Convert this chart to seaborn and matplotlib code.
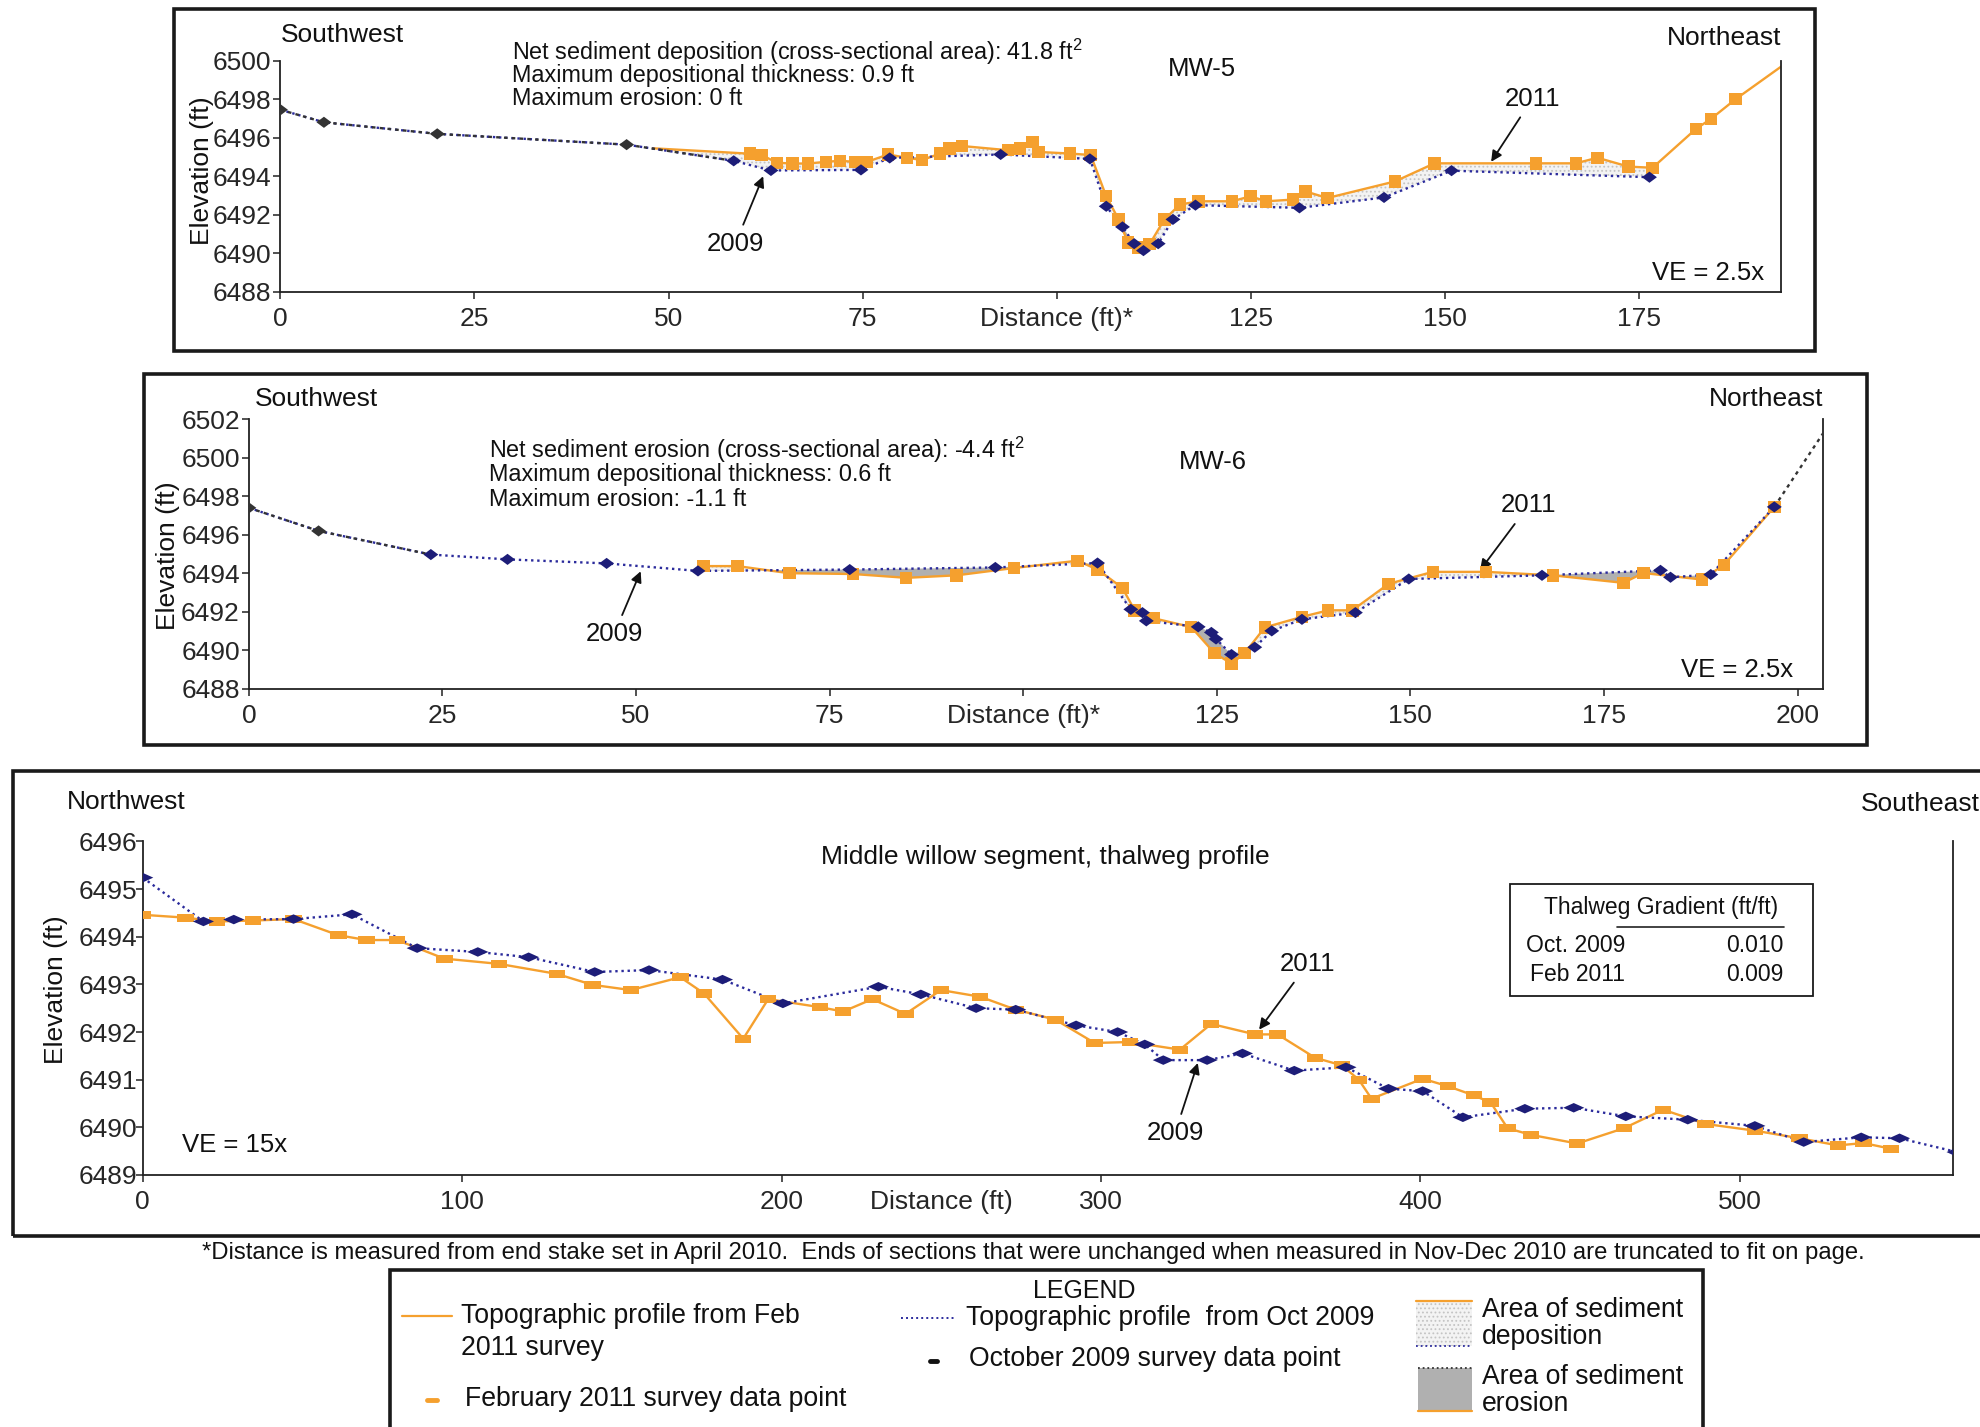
import numpy as np
import matplotlib
matplotlib.use("Agg")
import matplotlib.pyplot as plt
from matplotlib.path import Path
from matplotlib.patches import Rectangle
from matplotlib.lines import Line2D
import seaborn as sns

# ---------------------------------------------------------------- data
# MW-5 cross section (distance ft, elevation ft)
mw5_x09 = [0, 5.6, 20.2, 44.6, 58.4, 63.2, 74.8, 78.5, 92.8, 104.3, 106.4, 108.5,
           110.0, 111.2, 113.1, 115.0, 117.9, 131.3, 142.2, 150.9, 176.4]
mw5_y09 = [6497.45, 6496.8, 6496.2, 6495.64, 6494.8, 6494.3, 6494.33, 6494.95, 6495.13,
           6494.9, 6492.44, 6491.37, 6490.5, 6490.14, 6490.5, 6491.76, 6492.5, 6492.36,
           6492.9, 6494.29, 6493.95]
mw5_unchanged = 4          # leading 2009 points outside the resurveyed reach

mw5_x11 = [48.0, 60.5, 62.0, 64.0, 66.0, 68.0, 70.3, 72.1, 74.0, 75.6, 78.3, 80.7,
           82.7, 85.0, 86.2, 87.8, 93.75, 95.3, 96.9, 97.7, 101.7, 104.4, 106.4, 108.0,
           109.2, 110.5, 112.0, 113.9, 115.9, 118.3, 122.6, 125.0, 127.0, 130.5, 132.1,
           134.9, 143.6, 148.7, 161.8, 166.9, 169.7, 173.7, 176.8, 182.4, 184.3, 187.5,
           193.4]
mw5_y11 = [6495.45, 6495.17, 6495.1, 6494.7, 6494.66, 6494.66, 6494.75, 6494.8, 6494.75,
           6494.75, 6495.13, 6494.96, 6494.84, 6495.18, 6495.44, 6495.57, 6495.35,
           6495.44, 6495.78, 6495.26, 6495.18, 6495.1, 6492.96, 6491.76, 6490.56,
           6490.3, 6490.48, 6491.76, 6492.53, 6492.7, 6492.7, 6492.96, 6492.7, 6492.79,
           6493.21, 6492.87, 6493.73, 6494.67, 6494.67, 6494.67, 6494.96, 6494.5,
           6494.44, 6496.46, 6496.97, 6498.0, 6499.7]

# MW-6 cross section
mw6_x09 = [0, 9.0, 23.5, 33.4, 46.2, 58.0, 77.6, 96.4, 109.6, 113.9, 115.4, 115.9,
           122.6, 124.3, 124.9, 126.9, 129.9, 132.1, 136.0, 142.9, 149.8, 167.0, 182.3,
           183.6, 188.8]
mw6_y09 = [6497.4, 6496.2, 6494.97, 6494.72, 6494.51, 6494.12, 6494.19, 6494.3, 6494.53,
           6492.12, 6491.95, 6491.52, 6491.21, 6490.92, 6490.58, 6489.77, 6490.15,
           6491.0, 6491.6, 6491.95, 6493.7, 6493.89, 6494.15, 6493.79, 6493.93]
mw6_unchanged = 2
mw6_ne_x = [197.0, 203.5]          # unchanged northeast end
mw6_ne_y = [6497.45, 6501.4]

mw6_x11 = [58.7, 63.1, 69.8, 78.0, 84.9, 91.4, 98.8, 107.0, 109.6, 112.8, 114.4, 116.8,
           121.7, 124.7, 126.9, 128.6, 131.2, 136.0, 139.4, 142.5, 147.2, 152.9, 159.8,
           168.4, 177.5, 180.1, 187.7, 190.5, 197.0]
mw6_y11 = [6494.37, 6494.37, 6494.0, 6493.96, 6493.76, 6493.89, 6494.27, 6494.65,
           6494.19, 6493.24, 6492.07, 6491.66, 6491.2, 6489.84, 6489.3, 6489.84,
           6491.18, 6491.73, 6492.07, 6492.07, 6493.45, 6494.07, 6494.07, 6493.89,
           6493.5, 6494.01, 6493.67, 6494.44, 6497.45]

# Middle willow segment thalweg profile
th_x09 = [0, 19, 28.5, 47.2, 65.5, 85.9, 104.9, 120.8, 141.5, 158.5, 181.5, 200.4,
          230.3, 243.6, 260.9, 273.3, 292.2, 305.2, 313.7, 319.5, 333.2, 344.3, 360.5,
          376.7, 390, 400.7, 413.3, 432.7, 448, 464.3, 483.7, 504.7, 520, 538, 550, 568]
th_y09 = [6495.24, 6494.32, 6494.36, 6494.37, 6494.47, 6493.76, 6493.68, 6493.57,
          6493.26, 6493.3, 6493.1, 6492.6, 6492.95, 6492.79, 6492.5, 6492.47, 6492.14,
          6492.0, 6491.74, 6491.41, 6491.41, 6491.55, 6491.19, 6491.26, 6490.81,
          6490.76, 6490.21, 6490.39, 6490.41, 6490.23, 6490.16, 6490.03, 6489.69,
          6489.79, 6489.77, 6489.48]
th_x11 = [0, 13.4, 23.2, 34.5, 47.2, 61.3, 70.1, 79.6, 94.4, 111.5, 129.6, 140.8, 152.8,
          168.3, 175.7, 188, 195.8, 212.1, 219.3, 228.4, 238.8, 249.9, 262.2, 273.3,
          285.7, 298, 309.1, 324.7, 334.5, 348.2, 355.3, 367, 375.4, 380.7, 384.7,
          400.7, 408.7, 416.7, 422, 427.3, 434.7, 449.1, 463.7, 476, 489.3, 504.7,
          518.7, 530.7, 538.7, 547.3]
th_y11 = [6494.46, 6494.4, 6494.32, 6494.34, 6494.37, 6494.03, 6493.93, 6493.93,
          6493.54, 6493.43, 6493.22, 6492.99, 6492.88, 6493.15, 6492.81, 6491.86,
          6492.69, 6492.52, 6492.43, 6492.69, 6492.38, 6492.88, 6492.74, 6492.47,
          6492.26, 6491.77, 6491.79, 6491.63, 6492.17, 6491.95, 6491.95, 6491.46,
          6491.3, 6491.0, 6490.6, 6491.02, 6490.86, 6490.67, 6490.52, 6489.98,
          6489.84, 6489.66, 6489.98, 6490.37, 6490.07, 6489.93, 6489.77, 6489.62,
          6489.67, 6489.55]

# axis ticks and labels
mw5_xticks = [0, 25, 50, 75, 100, 125, 150, 175]
mw5_xlabels = ["0", "25", "50", "75", "Distance (ft)*", "125", "150", "175"]
mw5_yticks = [6488, 6490, 6492, 6494, 6496, 6498, 6500]
mw6_xticks = [0, 25, 50, 75, 100, 125, 150, 175, 200]
mw6_xlabels = ["0", "25", "50", "75", "Distance (ft)*", "125", "150", "175", "200"]
mw6_yticks = [6488, 6490, 6492, 6494, 6496, 6498, 6500, 6502]
th_xticks = [0, 100, 200, 250, 300, 400, 500]
th_xlabels = ["0", "100", "200", "Distance (ft)", "300", "400", "500"]
th_yticks = [6489, 6490, 6491, 6492, 6493, 6494, 6495, 6496]

mw5_notes = ["Net sediment deposition (cross-sectional area): 41.8 ft$^{2}$",
             "Maximum depositional thickness: 0.9 ft",
             "Maximum erosion: 0 ft"]
mw6_notes = ["Net sediment erosion (cross-sectional area): -4.4 ft$^{2}$",
             "Maximum depositional thickness: 0.6 ft",
             "Maximum erosion: -1.1 ft"]
gradient_rows = [("Oct. 2009", "0.010"), ("Feb 2011", "0.009")]

# ---------------------------------------------------------------- style
sns.set_theme(style="white")
plt.rcParams["font.family"] = ["Liberation Sans", "DejaVu Sans"]
plt.rcParams["mathtext.fontset"] = "custom"
plt.rcParams["mathtext.rm"] = "Liberation Sans"
plt.rcParams["mathtext.it"] = "Liberation Sans:italic"
plt.rcParams["hatch.color"] = "#b8b8b8"
plt.rcParams["hatch.linewidth"] = 0.8

ORANGE = "#F5A02E"
NAVY = "#1D1D78"
DOT_BLUE = "#2B2B9C"
DARK = "#333333"
FRAME = "#1a1a1a"
TICK_FS = 19
LABEL_FS = 19
NOTE_FS = 16.8

DIAMOND = Path([(-1, 0), (0, 0.75), (1, 0), (0, -0.75), (-1, 0)],
               [Path.MOVETO, Path.LINETO, Path.LINETO, Path.LINETO, Path.CLOSEPOLY])
FLAT_DIAMOND = Path([(-1, 0), (0, 0.45), (1, 0), (0, -0.45), (-1, 0)],
                    [Path.MOVETO, Path.LINETO, Path.LINETO, Path.LINETO, Path.CLOSEPOLY])
FLAT_RECT = Path([(-1, -0.5), (1, -0.5), (1, 0.5), (-1, 0.5), (-1, -0.5)],
                 [Path.MOVETO, Path.LINETO, Path.LINETO, Path.LINETO, Path.CLOSEPOLY])

GRID_W, GRID_H = 1568.0, 1129.5          # page layout grid


def pos(x, y):
    return (x / GRID_W, 1 - y / GRID_H)


fig = plt.figure(figsize=(19.81, 14.27), dpi=100)
fig.patch.set_facecolor("white")


def page_axes(x0, y0, x1, y1):
    a = pos(x0, y1)
    b = pos(x1, y0)
    return fig.add_axes([a[0], a[1], b[0] - a[0], b[1] - a[1]])


def frame(x0, y0, x1, y1, lw=2.6):
    a = pos(x0, y1)
    b = pos(x1, y0)
    fig.add_artist(Rectangle(a, b[0] - a[0], b[1] - a[1], transform=fig.transFigure,
                             fill=False, edgecolor=FRAME, linewidth=lw))


def ftext(x, y, s, size=LABEL_FS, ha="left", va="center", **kw):
    fig.text(*pos(x, y), s, fontsize=size, ha=ha, va=va, color="#111111", **kw)


def style_axes(ax, xlim, ylim, xticks, xlabels, yticks, ypad=1.5):
    ax.set_xlim(*xlim)
    ax.set_ylim(*ylim)
    ax.set_xticks(xticks)
    ax.set_xticklabels(xlabels)
    ax.set_yticks(yticks)
    ax.set_yticklabels([str(v) for v in yticks])
    ax.set_xlabel("")
    ax.set_ylabel("")
    ax.spines["top"].set_visible(False)
    for s in ("left", "bottom", "right"):
        ax.spines[s].set_color("#222222")
        ax.spines[s].set_linewidth(1.3)
    ax.tick_params(axis="both", labelsize=TICK_FS, length=5, width=1.1,
                   color="#222222", direction="out", left=True, bottom=True)
    ax.tick_params(axis="y", pad=ypad)
    ax.tick_params(axis="x", pad=6)
    ax.set_facecolor("none")


def change_fill(ax, x09, y09, x11, y11):
    lo = max(x09[0], x11[0])
    hi = min(x09[-1], x11[-1])
    grid = np.linspace(lo, hi, 1500)
    a = np.interp(grid, x09, y09)
    b = np.interp(grid, x11, y11)
    ax.fill_between(grid, a, b, where=b >= a, interpolate=True, facecolor="#f3f3f3",
                    hatch="....", edgecolor="#c4c4c4", linewidth=0, zorder=1)
    ax.fill_between(grid, a, b, where=b < a, interpolate=True, facecolor="#b0b0b0",
                    edgecolor="none", linewidth=0, zorder=1)


def profile(ax, x09, y09, x11, y11, n_unchanged, mk09, mk11, s09, s11,
            marks11=slice(None)):
    sns.lineplot(x=x11, y=y11, ax=ax, sort=False, estimator=None, color=ORANGE,
                 linewidth=1.7, zorder=2)
    sns.lineplot(x=x09, y=y09, ax=ax, sort=False, estimator=None, color=DOT_BLUE,
                 linewidth=1.7, linestyle=(0, (1, 1.6)), zorder=3)
    if n_unchanged:
        sns.lineplot(x=x09[:n_unchanged + 1], y=y09[:n_unchanged + 1], ax=ax,
                     sort=False, estimator=None, color=DARK, linewidth=1.7,
                     linestyle=(0, (1.5, 1.8)), zorder=3)
    sns.scatterplot(x=x11[marks11], y=y11[marks11], ax=ax, marker=mk11, s=s11,
                    color=ORANGE, edgecolor="none", linewidth=0, zorder=4)
    sns.scatterplot(x=x09[n_unchanged:], y=y09[n_unchanged:], ax=ax, marker=mk09,
                    s=s09, color=NAVY, edgecolor="none", linewidth=0, zorder=5)
    if n_unchanged:
        sns.scatterplot(x=x09[:n_unchanged], y=y09[:n_unchanged], ax=ax, marker=mk09,
                        s=s09, color=DARK, edgecolor="none", linewidth=0, zorder=5)


def arrow_label(ax, text, tip, text_pos):
    ax.annotate(text, xy=tip, xycoords="data", xytext=pos(*text_pos),
                textcoords="figure fraction", fontsize=18.5, ha="center", va="center",
                color="#111111",
                arrowprops=dict(arrowstyle="-|>", color="#111111", lw=1.3,
                                shrinkA=3, shrinkB=0, mutation_scale=16))


# ---------------------------------------------------------------- MW-5
frame(138, 7, 1437, 278)
ax1 = page_axes(222, 48, 1410, 231)
change_fill(ax1, mw5_x09, mw5_y09, mw5_x11, mw5_y11)
profile(ax1, np.array(mw5_x09), np.array(mw5_y09), np.array(mw5_x11), np.array(mw5_y11),
        mw5_unchanged, DIAMOND, "s", 115, 80, marks11=slice(1, -1))
style_axes(ax1, (0, 193.4), (6488, 6500), mw5_xticks, mw5_xlabels, mw5_yticks)
ftext(222, 28, "Southwest")
ftext(1410, 30, "Northeast", ha="right")
ftext(160, 135, "Elevation (ft)", rotation=90, ha="center")
for i, line in enumerate(mw5_notes):
    ftext(405, 41 + i * 18.5, line, size=NOTE_FS)
ftext(951, 55, "MW-5", size=18.5, ha="center")
ftext(1352, 216, "VE = 2.5x", size=18.5, ha="center")
arrow_label(ax1, "2011", (156.0, 6494.75), (1213, 78))
arrow_label(ax1, "2009", (62.2, 6494.0), (582, 193))

# ---------------------------------------------------------------- MW-6
frame(114, 296, 1478, 590)
ax2 = page_axes(197, 332, 1443, 545)
change_fill(ax2, mw6_x09, mw6_y09, mw6_x11, mw6_y11)
x09_6 = np.array(mw6_x09 + mw6_ne_x[:1])
y09_6 = np.array(mw6_y09 + mw6_ne_y[:1])
sns.lineplot(x=mw6_ne_x, y=mw6_ne_y, ax=ax2, sort=False, estimator=None, color=DARK,
             linewidth=1.7, linestyle=(0, (1.5, 1.8)), zorder=3)
profile(ax2, x09_6, y09_6, np.array(mw6_x11), np.array(mw6_y11),
        mw6_unchanged, DIAMOND, "s", 115, 80)
style_axes(ax2, (0, 203.3), (6488, 6502), mw6_xticks, mw6_xlabels, mw6_yticks)
ftext(202, 316, "Southwest")
ftext(1443, 316, "Northeast", ha="right")
ftext(133, 440, "Elevation (ft)", rotation=90, ha="center")
for i, line in enumerate(mw6_notes):
    ftext(387, 356 + i * 19.5, line, size=NOTE_FS)
ftext(960, 366, "MW-6", size=18.5, ha="center")
ftext(1375, 530, "VE = 2.5x", size=18.5, ha="center")
arrow_label(ax2, "2011", (159.0, 6494.15), (1210, 400))
arrow_label(ax2, "2009", (50.6, 6494.1), (486, 502))

# ---------------------------------------------------------------- thalweg
frame(10, 610, 1575, 978)
ax3 = page_axes(113, 666, 1546, 930)
profile(ax3, np.array(th_x09), np.array(th_y09), np.array(th_x11), np.array(th_y11),
        0, FLAT_DIAMOND, FLAT_RECT, 230, 140)
style_axes(ax3, (0, 566.8), (6489, 6496), th_xticks, th_xlabels, th_yticks, ypad=-1)
ax3.xaxis.get_major_ticks()[3].tick1line.set_visible(False)
ftext(53, 635, "Northwest")
ftext(1473, 636, "Southeast")
ftext(44, 783, "Elevation (ft)", rotation=90, ha="center")
ftext(827, 678, "Middle willow segment, thalweg profile", size=19, ha="center")
ftext(186, 906, "VE = 15x", size=18.5, ha="center")
arrow_label(ax3, "2011", (349.5, 6492.05), (1035, 763))
arrow_label(ax3, "2009", (330.3, 6491.35), (930, 897))

# gradient table
frame(1195, 700, 1435, 788, lw=1.3)
ftext(1315, 718, "Thalweg Gradient (ft/ft)", size=16.5, ha="center")
fig.add_artist(Line2D([pos(1280, 0)[0], pos(1412, 0)[0]], [pos(0, 734)[1]] * 2,
                      transform=fig.transFigure, color="#222222", lw=1.2))
for i, (name, val) in enumerate(gradient_rows):
    ftext(1208 + 3 * i, 748 + 23 * i, name, size=16.5)
    ftext(1412, 748 + 23 * i, val, size=16.5, ha="right")

# footnote
ftext(818, 992, "*Distance is measured from end stake set in April 2010.  Ends of sections "
      "that were unchanged when measured in Nov-Dec 2010 are truncated to fit on page.",
      size=17.2, ha="center")

# ---------------------------------------------------------------- legend
frame(309, 1005, 1348, 1145)
ftext(858, 1022, "LEGEND", size=18, ha="center")


def hline(x0, x1, y, **kw):
    fig.add_artist(Line2D([pos(x0, 0)[0], pos(x1, 0)[0]], [pos(0, y)[1]] * 2,
                          transform=fig.transFigure, **kw))


LEG_FS = 19.2
hline(318, 358, 1042, color=ORANGE, lw=1.6)
ftext(365, 1042, "Topographic profile from Feb", size=LEG_FS)
ftext(365, 1067, "2011 survey", size=LEG_FS)
hline(338, 346, 1108, color=ORANGE, lw=3.5)
ftext(368, 1107, "February 2011 survey data point", size=LEG_FS)
hline(713, 757, 1043, color=DOT_BLUE, lw=1.4, linestyle=(0, (1, 1.6)))
ftext(765, 1043, "Topographic profile  from Oct 2009", size=LEG_FS)
hline(736, 742, 1077, color="#111111", lw=3.5)
ftext(767, 1076, "October 2009 survey data point", size=LEG_FS)

# deposition swatch
a = pos(1121, 1065)
b = pos(1165, 1030)
fig.add_artist(Rectangle(a, b[0] - a[0], b[1] - a[1], transform=fig.transFigure,
                         facecolor="#f3f3f3", hatch="....", edgecolor="#c4c4c4", lw=0))
hline(1121, 1165, 1030, color=ORANGE, lw=1.6)
hline(1121, 1165, 1065, color=DOT_BLUE, lw=1.3, linestyle=(0, (1, 1.6)))
ftext(1173, 1037, "Area of sediment", size=LEG_FS)
ftext(1173, 1058, "deposition", size=LEG_FS)

# erosion swatch
a = pos(1122, 1117)
b = pos(1165, 1083)
fig.add_artist(Rectangle(a, b[0] - a[0], b[1] - a[1], transform=fig.transFigure,
                         facecolor="#b0b0b0", edgecolor="none", lw=0))
hline(1122, 1165, 1083, color=DARK, lw=1.3, linestyle=(0, (1, 1.6)))
hline(1122, 1165, 1117, color=ORANGE, lw=1.6)
ftext(1173, 1090, "Area of sediment", size=LEG_FS)
ftext(1173, 1111, "erosion", size=LEG_FS)

fig.savefig("out.png", dpi=100, facecolor="white")
